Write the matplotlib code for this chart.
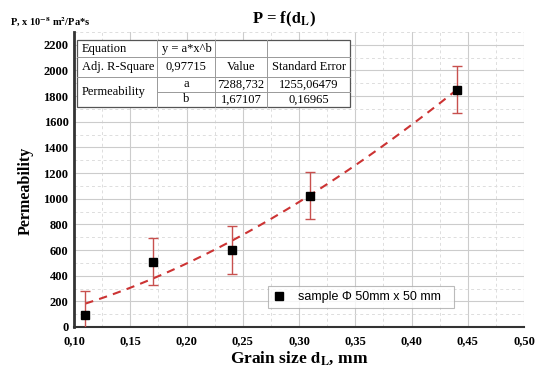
import numpy as np
import matplotlib
matplotlib.use("Agg")
import matplotlib.pyplot as plt
from matplotlib.ticker import MultipleLocator, FormatStrFormatter

plt.rcParams["font.family"] = "Liberation Serif"
plt.rcParams["mathtext.fontset"] = "stix"

# data
grain_size = [0.11, 0.17, 0.24, 0.31, 0.44]
permeability = [95, 510, 600, 1025, 1850]
perm_err = [185, 185, 185, 185, 185]

# fit parameters as printed in the table
fit_a = 7288.732
fit_b = 1.67107

table_rows = [
    ["Equation", "y = a*x^b", "", ""],
    ["Adj. R-Square", "0,97715", "Value", "Standard Error"],
    ["Permeability", "a", "7288,732", "1255,06479"],
    ["", "b", "1,67107", "0,16965"],
]

fig = plt.figure(figsize=(5.41, 3.66), dpi=100)
ax = fig.add_axes([0.1368, 0.1066, 0.832, 0.806])

ax.set_xlim(0.10, 0.50)
ax.set_ylim(0, 2300)
ax.xaxis.set_major_locator(MultipleLocator(0.05))
ax.xaxis.set_minor_locator(MultipleLocator(0.025))
ax.yaxis.set_major_locator(MultipleLocator(200))
ax.yaxis.set_minor_locator(MultipleLocator(100))
ax.grid(which="major", color="#cccccc", lw=0.8, ls="-")
ax.grid(which="minor", color="#dddddd", lw=0.7, ls=(0, (3, 3)))
ax.set_axisbelow(True)

ax.xaxis.set_major_formatter(lambda v, p: f"{v:.2f}".replace(".", ","))
ax.yaxis.set_major_formatter(FormatStrFormatter("%d"))
ax.tick_params(which="both", length=0, labelsize=9)
ax.tick_params(axis="x", pad=6)
ax.tick_params(axis="y", pad=4)
for lab in ax.get_xticklabels() + ax.get_yticklabels():
    lab.set_fontweight("bold")

for s in ["top", "right"]:
    ax.spines[s].set_visible(False)
ax.spines["left"].set_linewidth(2)
ax.spines["left"].set_color("#333333")
ax.spines["bottom"].set_linewidth(1.5)
ax.spines["bottom"].set_color("#333333")

# fitted curve
xf = np.linspace(grain_size[0], grain_size[-1], 100)
ax.plot(xf, fit_a * xf ** fit_b, color="#cc3333", ls=(0, (4, 3)), lw=1.5, zorder=3)

ax.errorbar(grain_size, permeability, yerr=perm_err, fmt="none",
            ecolor="#c8504e", elinewidth=1.0, capsize=3.5, capthick=1.0, zorder=4)
ax.plot(grain_size, permeability, "s", color="black", ms=5.5, zorder=5,
        label="sample \u03a6 50mm x 50 mm")

leg = ax.legend(loc="lower left", bbox_to_anchor=(0.431, 0.064, 0.413, 0.108),
                mode="expand", frameon=True, fancybox=False, handlelength=1.0,
                handletextpad=1.0, borderaxespad=0,
                prop={"family": "Liberation Sans", "size": 9})
leg.get_frame().set_edgecolor("#aaaaaa")
leg.get_frame().set_linewidth(0.8)

# stats table drawn in axes fraction coordinates
xs = [0.0067, 0.1844, 0.313, 0.429, 0.613]
ys = [0.973, 0.915, 0.847, 0.797, 0.746]
ax.add_patch(plt.Rectangle((xs[0], ys[-1]), xs[-1] - xs[0], ys[0] - ys[-1],
                           transform=ax.transAxes, facecolor="white",
                           edgecolor="#555555", lw=0.9, zorder=6))
lc = "#999999"
for y in ys[1:3]:
    ax.plot([xs[0], xs[-1]], [y, y], transform=ax.transAxes, color=lc, lw=0.7, zorder=7)
ax.plot([xs[1], xs[-1]], [ys[3], ys[3]], transform=ax.transAxes, color=lc, lw=0.7, zorder=7)
for x in xs[1:4]:
    ax.plot([x, x], [ys[0], ys[-1]], transform=ax.transAxes, color=lc, lw=0.7, zorder=7)

for r, row in enumerate(table_rows):
    yc = (ys[r] + ys[r + 1]) / 2
    for c, txt in enumerate(row):
        if not txt:
            continue
        if c == 0 and txt == "Permeability":
            yc2 = (ys[2] + ys[4]) / 2
            ax.text(xs[0] + 0.01, yc2, txt, transform=ax.transAxes, fontsize=9,
                    va="center", ha="left", zorder=8)
        elif c == 0 or (r == 0 and c == 1):
            ax.text(xs[c] + 0.01, yc, txt, transform=ax.transAxes, fontsize=9,
                    va="center", ha="left", zorder=8)
        else:
            ax.text((xs[c] + xs[c + 1]) / 2, yc, txt, transform=ax.transAxes,
                    fontsize=9, va="center", ha="center", zorder=8)

ax.set_ylabel("Permeability", fontsize=11.5, fontweight="bold")
ax.yaxis.set_label_coords(-0.09, 0.46)
ax.set_xlabel(r"Grain size $\mathbf{d_L}$, mm", fontsize=12.5, fontweight="bold", labelpad=1)
fig.text(284 / 541, 1 - 19 / 366, r"P = f($\mathbf{d_L}$)", fontsize=12,
         fontweight="bold", ha="center", va="center")
fig.text(10 / 541, 1 - 22 / 366, r"P, x 10$^{\mathbf{-8}}$ m$^{\mathbf{2}}$/Pa*s",
         fontsize=7.5, fontweight="bold", ha="left", va="center")

fig.savefig("out.png", dpi=100)
